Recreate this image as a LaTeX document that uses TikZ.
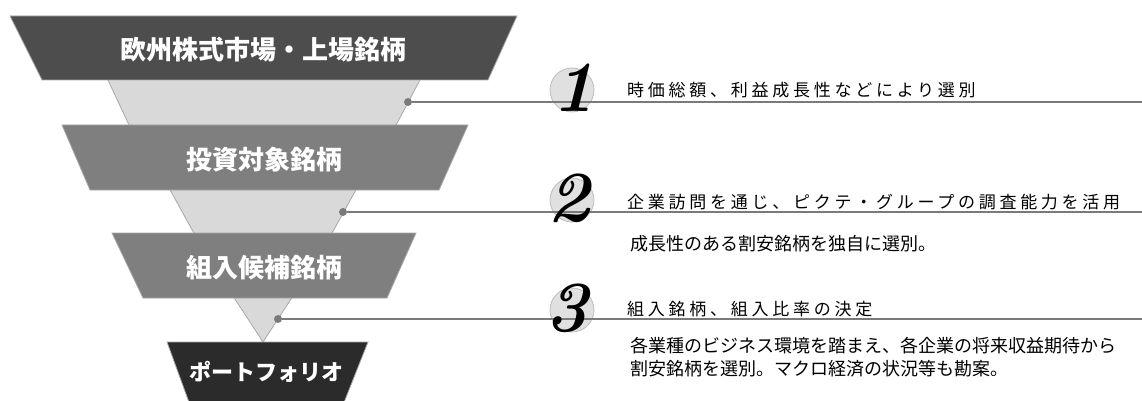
\documentclass[tikz,border=0pt]{standalone}
\usepackage{fontspec}
\newfontfamily\jpfont{Noto Sans CJK JP}
\newfontfamily\jpwide[LetterSpace=22]{Noto Sans CJK JP}

\definecolor{layerA}{HTML}{4D4D4D}
\definecolor{layerB}{HTML}{7F7F7F}
\definecolor{layerC}{HTML}{2B2B2B}
\definecolor{layeredge}{HTML}{A8A8A8}
\definecolor{funnelgray}{HTML}{D9D9D9}
\definecolor{leadgray}{HTML}{7A7A7A}
\definecolor{badgefill}{HTML}{E0E0E0}
\definecolor{badgeedge}{HTML}{BDBDBD}

\begin{document}
\begin{tikzpicture}[x=1pt,y=-1pt]

\tikzset{
    layer/.style={draw=layeredge,line width=0.8pt},
    funnel/.style={fill=funnelgray,draw=layeredge,line width=0.8pt},
    title/.style={text=white,inner sep=0pt,font=\jpfont\bfseries\fontsize{26}{26}\selectfont},
    headline/.style={anchor=base west,inner sep=0pt,font=\jpwide\fontsize{17}{18}\selectfont},
    detail/.style={anchor=base west,inner sep=0pt,font=\jpfont\fontsize{18}{23}\selectfont},
    badge/.style={circle,minimum size=44pt,inner sep=0pt,fill=badgefill,draw=badgeedge,line width=0.8pt},
    numeral/.style={inner sep=0pt,font=\itshape\bfseries\fontsize{72}{72}\selectfont},
    lead/.style={draw=leadgray,line width=1.6pt},
    pin/.style={circle,fill=leadgray,minimum size=8pt,inner sep=0pt},
}

\useasboundingbox (0,0) rectangle (1142,401);

%% Funnel
\filldraw[funnel] (107,78) -- (421,78) -- (395,127) -- (130,127) -- cycle;
\filldraw[funnel] (169,188) -- (357,188) -- (331,235) -- (195,235) -- cycle;
\filldraw[funnel] (233,296) -- (293,296) -- (263,342) -- cycle;

%% Layers
\filldraw[layer,fill=layerA] (10,16) -- (517,16) -- (488,80) -- (42,80) -- cycle;
\node[title] (universe) at (263,50) {欧州株式市場・上場銘柄};

\filldraw[layer,fill=layerB] (62,125) -- (468,125) -- (439,190) -- (90,190) -- cycle;
\node[title] (invest) at (264,160) {投資対象銘柄};

\filldraw[layer,fill=layerB] (112,233) -- (416,233) -- (387,298) -- (143,298) -- cycle;
\node[title] (candidate) at (264,268) {組入候補銘柄};

\filldraw[layer,fill=layerC] (167,342) -- (368,342) -- (343,405) -- (190,405) -- cycle;
\node[title,font=\jpfont\bfseries\fontsize{22}{22}\selectfont] (portfolio) at (266,372) {ポートフォリオ};

%% Badges
\node[badge] (badge1) at (572,90) {};
\node[badge] (badge2) at (572,200) {};
\node[badge] (badge3) at (572,310) {};

%% Leads
\node[pin] (pin1) at (408,102) {};
\node[pin] (pin2) at (343,212) {};
\node[pin] (pin3) at (278,319) {};
\coordinate (end1) at (1142,102);
\coordinate (end2) at (1142,212);
\coordinate (end3) at (1142,319);
\draw[lead] (pin1) -- (end1);
\draw[lead] (pin2) -- (end2);
\draw[lead] (pin3) -- (end3);

\node[numeral] (num1) at (574,88) {1};
\node[numeral] (num2) at (569,198) {2};
\node[numeral] (num3) at (567,308) {3};

%% Steps
\node[headline] (head1) at (627,97) {時価総額、利益成長性などにより選別};
\node[headline] (head2) at (627,208) {企業訪問を通じ、ピクテ・グループの調査能力を活用};
\node[detail] (text2) at (630,250) {成長性のある割安銘柄を独自に選別。};
\node[headline] (head3) at (627,315) {組入銘柄、組入比率の決定};
\node[detail] (text3a) at (630,352) {各業種のビジネス環境を踏まえ、各企業の将来収益期待から};
\node[detail] (text3b) at (630,375) {割安銘柄を選別。マクロ経済の状況等も勘案。};

\end{tikzpicture}
\end{document}
